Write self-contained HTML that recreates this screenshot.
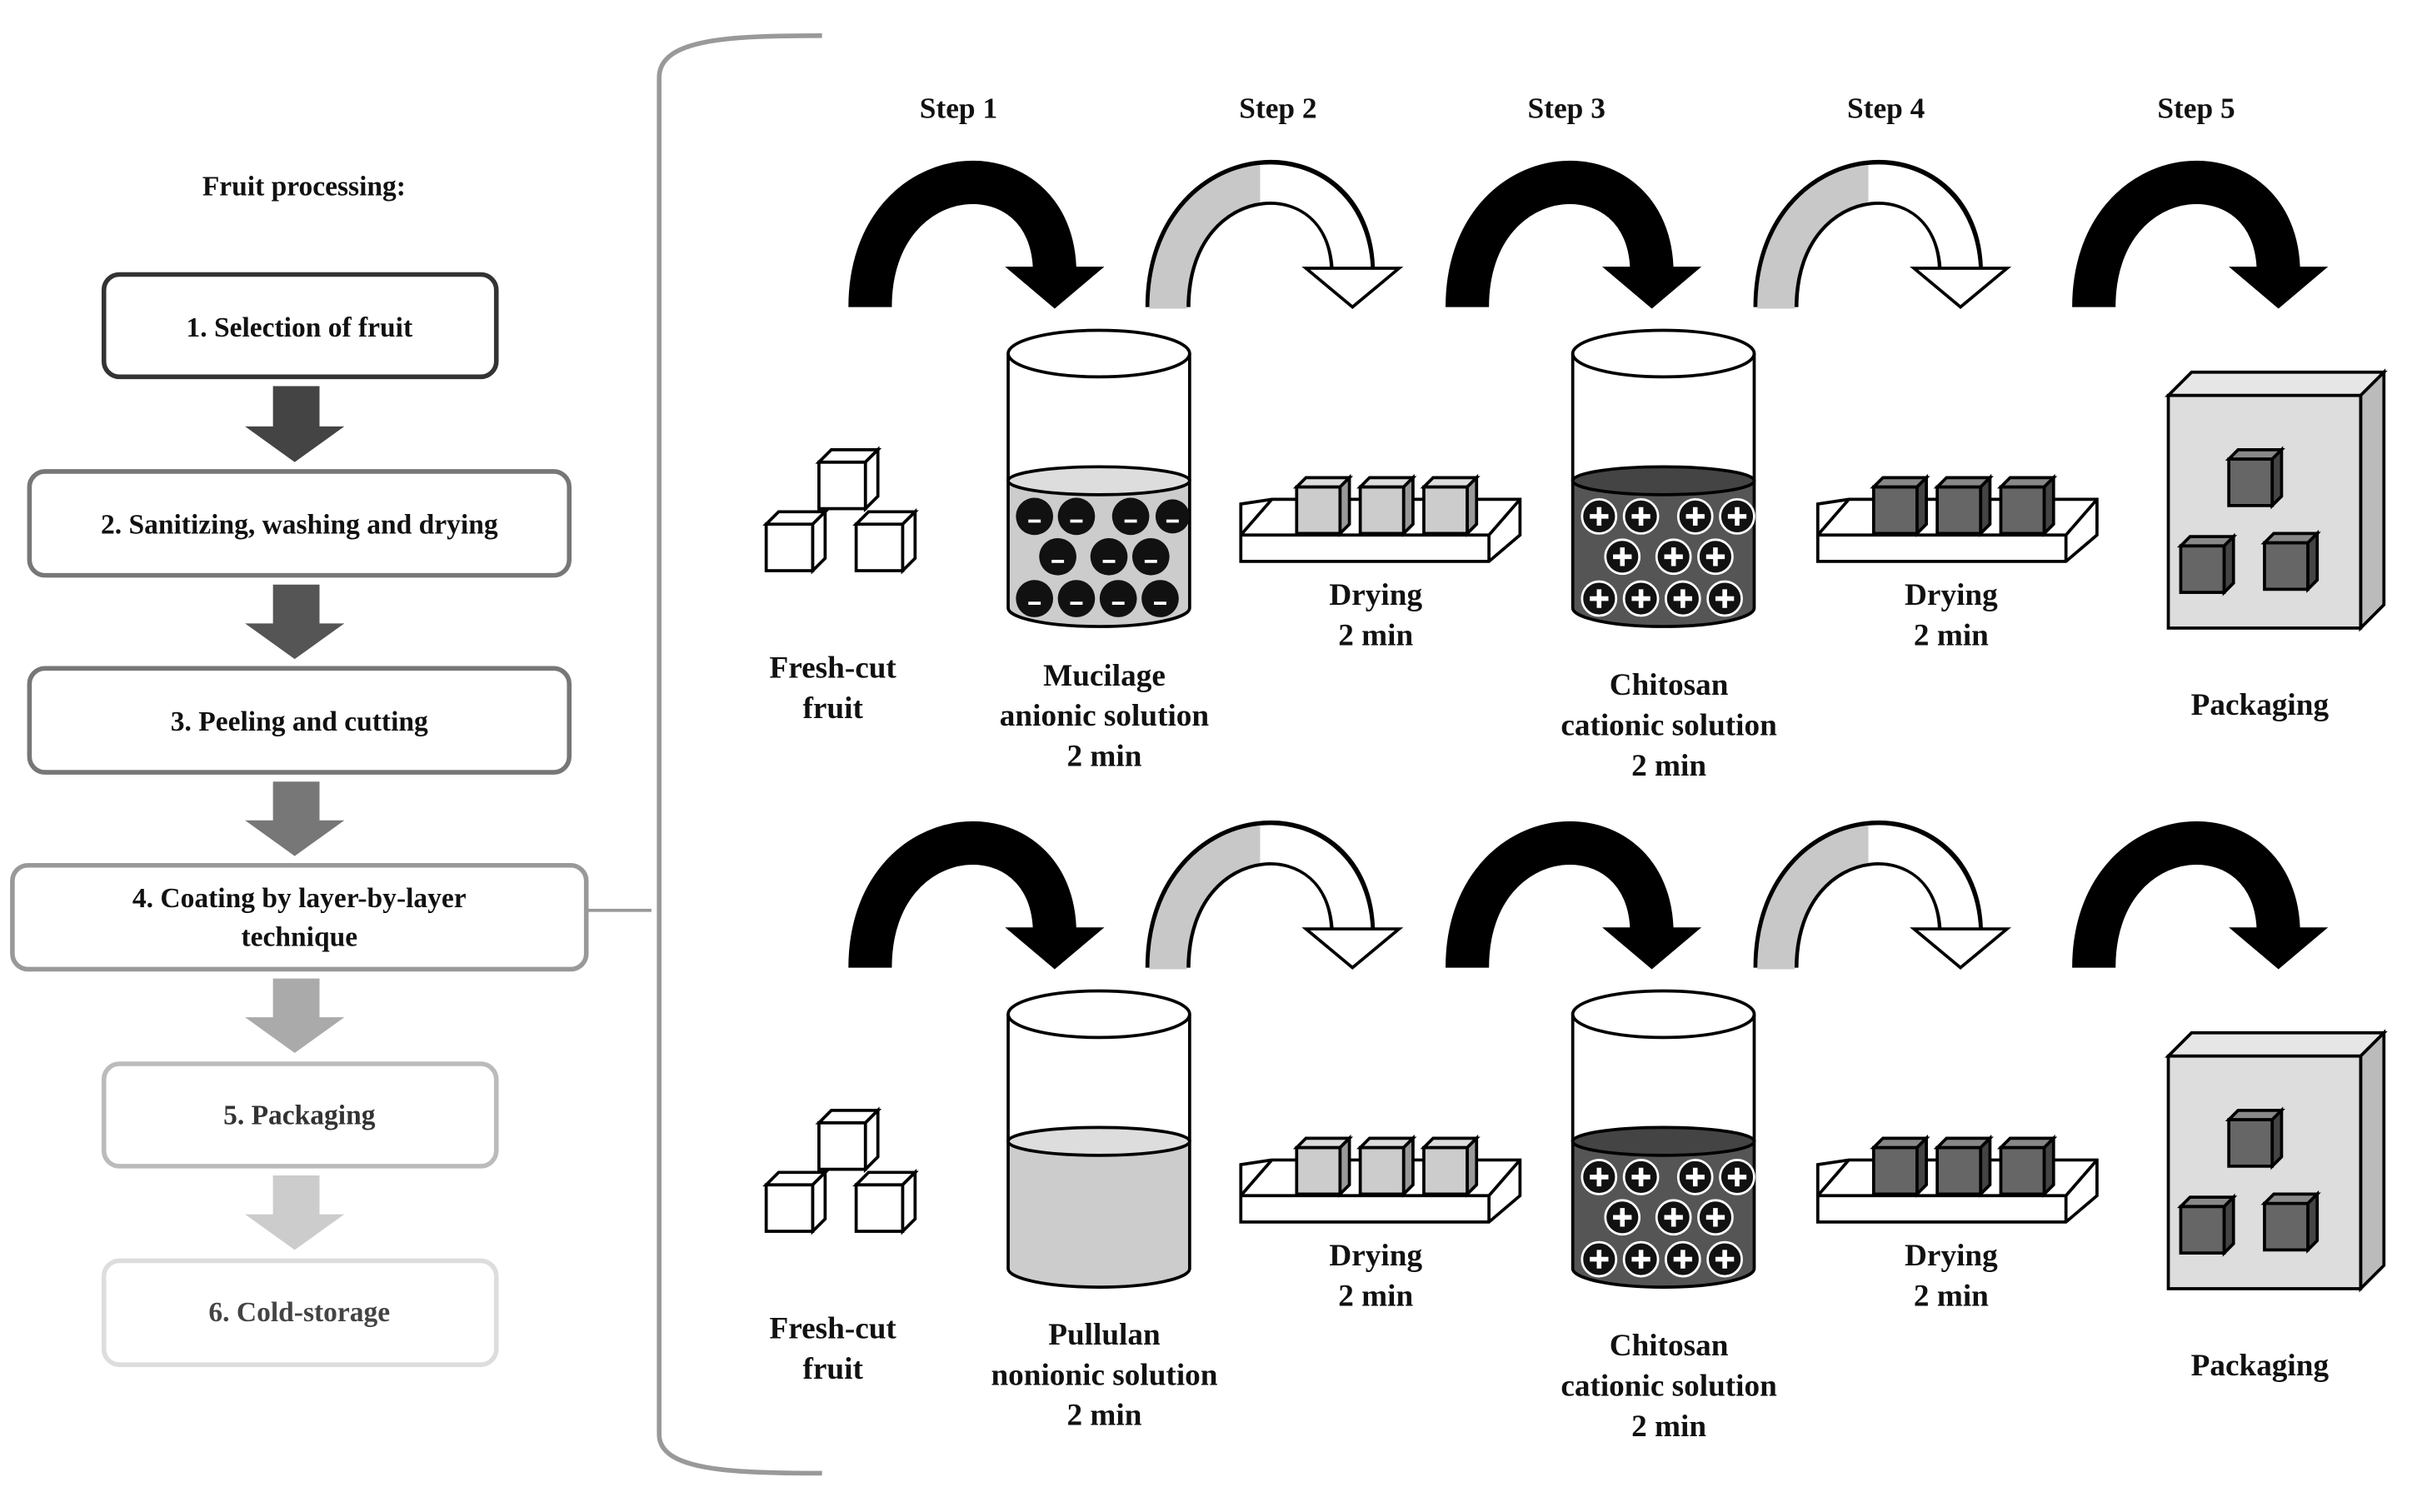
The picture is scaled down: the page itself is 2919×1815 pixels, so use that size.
<!DOCTYPE html>
<html><head><meta charset="utf-8"><style>html,body{margin:0;padding:0;background:#fff}svg{display:block}text{font-family:"Liberation Serif",serif;font-weight:bold;fill:#111;text-anchor:middle}</style></head><body>
<svg width="2919" height="1815" viewBox="0 0 1568 975" preserveAspectRatio="none" xmlns="http://www.w3.org/2000/svg">
<defs>
<linearGradient id="gg" x1="0" x2="1"><stop offset="0.5" stop-color="#c8c8c8"/><stop offset="0.5" stop-color="#fff"/></linearGradient>
<g id="cube"><rect x="0" y="0" width="30" height="30" fill="#fff" stroke="#000" stroke-width="2"/><polygon points="0,0 8,-8 38,-8 30,0" fill="#fff" stroke="#000" stroke-width="2"/><polygon points="30,0 38,-8 38,22 30,30" fill="#fff" stroke="#000" stroke-width="2"/></g>
<g id="cubeL"><rect x="0" y="0" width="28" height="30" fill="#ccc" stroke="#000" stroke-width="2"/><polygon points="0,0 6,-6 34,-6 28,0" fill="#ddd" stroke="#000" stroke-width="2"/><polygon points="28,0 34,-6 34,24 28,30" fill="#999" stroke="#000" stroke-width="2"/></g>
<g id="cubeD"><rect x="0" y="0" width="28" height="30" fill="#666" stroke="#000" stroke-width="2"/><polygon points="0,0 6,-6 34,-6 28,0" fill="#888" stroke="#000" stroke-width="2"/><polygon points="28,0 34,-6 34,24 28,30" fill="#444" stroke="#000" stroke-width="2"/></g>
<g id="tray"><polygon points="0,325 20,322 180,322 180,345 160,362 0,362" fill="#fff" stroke="#000" stroke-width="2"/><polyline points="0,345 160,345 180,322" fill="none" stroke="#000" stroke-width="2"/><line x1="160" y1="345" x2="160" y2="362" stroke="#000" stroke-width="2"/><line x1="0" y1="345" x2="20" y2="322" stroke="#000" stroke-width="2"/></g>
<g id="fresh"><use href="#cube" x="528" y="298"/><use href="#cube" x="494" y="338"/><use href="#cube" x="552" y="338"/></g>
<g id="pack"><polygon points="1398,255 1413,240 1537,240 1522,255" fill="#e6e6e6" stroke="#000" stroke-width="2"/><polygon points="1522,255 1537,240 1537,390 1522,405" fill="#bbb" stroke="#000" stroke-width="2"/><rect x="1398" y="255" width="124" height="150" fill="#ddd" stroke="#000" stroke-width="2"/><use href="#cubeD" x="1437" y="296"/><use href="#cubeD" x="1406" y="352"/><use href="#cubeD" x="1460" y="350"/></g>
<g id="black"><path d="M561,198 C561,98 680,92 680,176" fill="none" stroke="#000" stroke-width="28"/><polygon points="648,172 712,172 680,199" fill="#000"/></g>
<g id="gray"><path d="M753,198 C753,98 872,92 872,176" fill="none" stroke="#000" stroke-width="29"/><path d="M753,199 C753,98 872,92 872,178" fill="none" stroke="url(#gg)" stroke-width="24"/><polygon points="842,173 902,173 872,198" fill="#fff" stroke="#000" stroke-width="2"/></g>
</defs>
<rect width="1600" height="1000" fill="#fff"/>
<text x="196" y="126" font-size="18">Fruit processing:</text>
<rect x="67" y="177" width="253" height="66" rx="10" fill="#fff" stroke="#333" stroke-width="3"/>
<text x="193" y="217" font-size="18">1. Selection of fruit</text>
<polygon points="176,249 206,249 206,275 222,275 190,298 158,275 176,275" fill="#444"/>
<rect x="19" y="304" width="348" height="67" rx="10" fill="#fff" stroke="#777" stroke-width="3"/>
<text x="193" y="344" font-size="18">2. Sanitizing, washing and drying</text>
<polygon points="176,377 206,377 206,402 222,402 190,425 158,402 176,402" fill="#555"/>
<rect x="19" y="431" width="348" height="67" rx="10" fill="#fff" stroke="#777" stroke-width="3"/>
<text x="193" y="471" font-size="18">3. Peeling and cutting</text>
<polygon points="176,504 206,504 206,529 222,529 190,552 158,529 176,529" fill="#777"/>
<rect x="8" y="558" width="370" height="67" rx="10" fill="#fff" stroke="#999" stroke-width="3"/>
<text x="193" y="585" font-size="18">4. Coating by layer-by-layer</text>
<text x="193" y="610" font-size="18">technique</text>
<line x1="378" y1="587" x2="420" y2="587" stroke="#999" stroke-width="2"/>
<polygon points="176,631 206,631 206,656 222,656 190,679 158,656 176,656" fill="#aaa"/>
<rect x="67" y="686" width="253" height="66" rx="10" fill="#fff" stroke="#bbb" stroke-width="3"/>
<text x="193" y="725" font-size="18" style="fill:#333">5. Packaging</text>
<polygon points="176,758 206,758 206,783 222,783 190,806 158,783 176,783" fill="#ccc"/>
<rect x="67" y="813" width="253" height="67" rx="10" fill="#fff" stroke="#ddd" stroke-width="3"/>
<text x="193" y="852" font-size="18" style="fill:#444">6.  Cold-storage</text>
<path d="M530,23 C470,23 425,25 425,50 L425,925 C425,948 470,950 530,950" fill="none" stroke="#999" stroke-width="3"/>
<g font-size="19"><text x="618" y="76">Step 1</text><text x="824" y="76">Step 2</text><text x="1010" y="76">Step 3</text><text x="1216" y="76">Step 4</text><text x="1416" y="76">Step 5</text></g>
<g id="arrows"><use href="#black"/><use href="#gray"/><use href="#black" x="385"/><use href="#gray" x="392"/><use href="#black" x="789"/></g>
<use href="#arrows" y="426"/>
<use href="#fresh"/><use href="#fresh" y="426"/>
<g id="trays"><use href="#tray" x="800"/><use href="#cubeL" x="836" y="314"/><use href="#cubeL" x="877" y="314"/><use href="#cubeL" x="918" y="314"/></g>
<use href="#trays" y="426"/>
<g id="trays2"><use href="#tray" x="1172"/><use href="#cubeD" x="1208" y="314"/><use href="#cubeD" x="1249" y="314"/><use href="#cubeD" x="1290" y="314"/></g>
<use href="#trays2" y="426"/>
<use href="#pack"/><use href="#pack" y="426"/>
<path d="M650,310 L650,392 A58.5,12 0 0 0 767,392 L767,310 Z" fill="#ccc" stroke="#000" stroke-width="2"/>
<ellipse cx="708.5" cy="310" rx="58.5" ry="9" fill="#ddd" stroke="#000" stroke-width="2"/>
<line x1="650" y1="228" x2="650" y2="310" stroke="#000" stroke-width="2"/><line x1="767" y1="228" x2="767" y2="310" stroke="#000" stroke-width="2"/>
<ellipse cx="708.5" cy="228" rx="58.5" ry="15" fill="#fff" stroke="#000" stroke-width="2"/>
<g fill="#111"><circle cx="667" cy="333" r="12"/><circle cx="694" cy="333" r="12"/><circle cx="729" cy="333" r="12"/><circle cx="756" cy="333" r="11"/><circle cx="682" cy="359" r="12"/><circle cx="715" cy="359" r="12"/><circle cx="742" cy="359" r="12"/><circle cx="667" cy="386" r="12"/><circle cx="694" cy="386" r="12"/><circle cx="721" cy="386" r="12"/><circle cx="748" cy="386" r="12"/></g>
<g stroke="#fff" stroke-width="2"><path d="M663,336h8M690,336h8M725,336h8M752,336h8M678,362h8M711,362h8M738,362h8M663,389h8M690,389h8M717,389h8M744,389h8"/></g>
<g id="chit">
<path d="M1014,310 L1014,392 A58.5,12 0 0 0 1131,392 L1131,310 Z" fill="#555" stroke="#000" stroke-width="2"/>
<ellipse cx="1072.5" cy="310" rx="58.5" ry="9" fill="#444" stroke="#000" stroke-width="2"/>
<line x1="1014" y1="228" x2="1014" y2="310" stroke="#000" stroke-width="2"/><line x1="1131" y1="228" x2="1131" y2="310" stroke="#000" stroke-width="2"/>
<ellipse cx="1072.5" cy="228" rx="58.5" ry="15" fill="#fff" stroke="#000" stroke-width="2"/>
<g fill="#111" stroke="#fff" stroke-width="1.5"><circle cx="1031" cy="333" r="11"/><circle cx="1058" cy="333" r="11"/><circle cx="1093" cy="333" r="11"/><circle cx="1120" cy="333" r="11"/><circle cx="1046" cy="359" r="11"/><circle cx="1079" cy="359" r="11"/><circle cx="1106" cy="359" r="11"/><circle cx="1031" cy="386" r="11"/><circle cx="1058" cy="386" r="11"/><circle cx="1085" cy="386" r="11"/><circle cx="1112" cy="386" r="11"/></g>
<g stroke="#fff" stroke-width="3"><path d="M1025,333h12M1031,327v12M1052,333h12M1058,327v12M1087,333h12M1093,327v12M1114,333h12M1120,327v12M1040,359h12M1046,353v12M1073,359h12M1079,353v12M1100,359h12M1106,353v12M1025,386h12M1031,380v12M1052,386h12M1058,380v12M1079,386h12M1085,380v12M1106,386h12M1112,380v12"/></g>
</g>
<use href="#chit" y="426"/>
<path d="M650,736 L650,818 A58.5,12 0 0 0 767,818 L767,736 Z" fill="#ccc" stroke="#000" stroke-width="2"/>
<ellipse cx="708.5" cy="736" rx="58.5" ry="9" fill="#ddd" stroke="#000" stroke-width="2"/>
<line x1="650" y1="654" x2="650" y2="736" stroke="#000" stroke-width="2"/><line x1="767" y1="654" x2="767" y2="736" stroke="#000" stroke-width="2"/>
<ellipse cx="708.5" cy="654" rx="58.5" ry="15" fill="#fff" stroke="#000" stroke-width="2"/>
<g font-size="20">
<text x="537" y="437">Fresh-cut</text><text x="537" y="463">fruit</text>
<text x="712" y="442">Mucilage</text><text x="712" y="468">anionic solution</text><text x="712" y="494">2 min</text>
<text x="887" y="390">Drying</text><text x="887" y="416">2 min</text>
<text x="1076" y="448">Chitosan</text><text x="1076" y="474">cationic solution</text><text x="1076" y="500">2 min</text>
<text x="1258" y="390">Drying</text><text x="1258" y="416">2 min</text>
<text x="1457" y="461">Packaging</text>
<text x="537" y="863">Fresh-cut</text><text x="537" y="889">fruit</text>
<text x="712" y="867">Pullulan</text><text x="712" y="893">nonionic solution</text><text x="712" y="919">2 min</text>
<text x="887" y="816">Drying</text><text x="887" y="842">2 min</text>
<text x="1076" y="874">Chitosan</text><text x="1076" y="900">cationic solution</text><text x="1076" y="926">2 min</text>
<text x="1258" y="816">Drying</text><text x="1258" y="842">2 min</text>
<text x="1457" y="887">Packaging</text>
</g>
</svg>
</body></html>
